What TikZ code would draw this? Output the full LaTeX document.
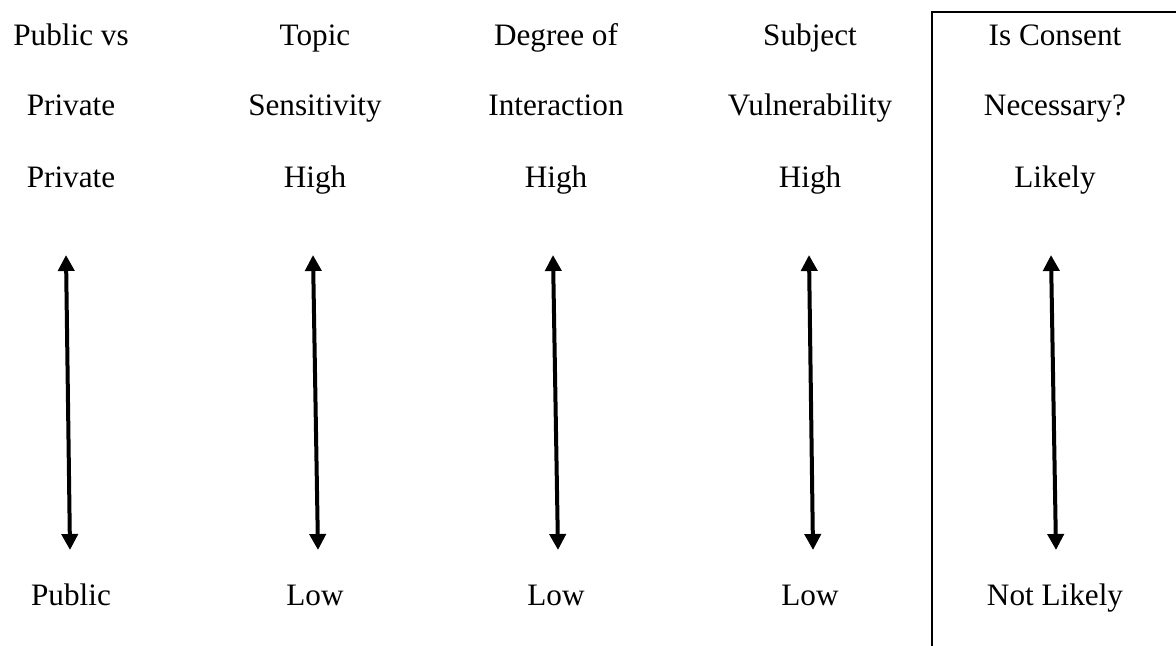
\documentclass[tikz,border=0pt]{standalone}
\usepackage{fontspec}
\setmainfont{Liberation Serif}
\usetikzlibrary{arrows.meta,positioning}

\begin{document}
\begin{tikzpicture}
[x=0.5pt, y=-0.5pt, font=\fontsize{15.6}{18}\selectfont,
% STYLES
% The headtext style is used for the names of the dimensions
headtext/.style={inner sep=0pt, anchor=base},
% The scaletext style is used for the ends of each scale
scaletext/.style={inner sep=0pt, anchor=base},
% The scalearrow style is used to draw the double headed arrows
scalearrow/.style={line width=2pt, {Triangle[width=8pt,length=8pt]}-{Triangle[width=8pt,length=8pt]}}]

\useasboundingbox (0,0) rectangle (1176,646);

% Draw headings
\node [headtext] (pubpriv-a) at (71,46) {Public vs};
\node [headtext] (pubpriv-b) at (71,116) {Private};
\node [headtext] (topic-a) at (315,46) {Topic};
\node [headtext] (topic-b) at (315,116) {Sensitivity};
\node [headtext] (degree-a) at (556,46) {Degree of};
\node [headtext] (degree-b) at (556,116) {Interaction};
\node [headtext] (subject-a) at (810,46) {Subject};
\node [headtext] (subject-b) at (810,116) {Vulnerability};
\node [headtext] (consent-a) at (1055,46) {Is Consent};
\node [headtext] (consent-b) at (1055,116) {Necessary?};

%%%%%%%%%%%%%%%
% Ends of the scales

% top
\node [scaletext] (pubpriv-top) at (71,188) {Private};
\node [scaletext] (topic-top) at (315,188) {High};
\node [scaletext] (degree-top) at (556,188) {High};
\node [scaletext] (subject-top) at (810,188) {High};
\node [scaletext] (consent-top) at (1055,188) {Likely};

% bottom
\node [scaletext] (pubpriv-low) at (71,605) {Public};
\node [scaletext] (topic-low) at (315,605) {Low};
\node [scaletext] (degree-low) at (556,605) {Low};
\node [scaletext] (subject-low) at (810,605) {Low};
\node [scaletext] (consent-low) at (1055,605) {Not Likely};

% arrow ends
\coordinate (pubpriv-up) at (66,255);
\coordinate (pubpriv-down) at (70,550);
\coordinate (topic-up) at (313,255);
\coordinate (topic-down) at (318,550);
\coordinate (degree-up) at (553,255);
\coordinate (degree-down) at (558,550);
\coordinate (subject-up) at (809,255);
\coordinate (subject-down) at (813,550);
\coordinate (consent-up) at (1051,255);
\coordinate (consent-down) at (1056,550);

%%%%%%%%%%%%%%%%

% Draw the scales
\draw [scalearrow] (pubpriv-up) -- (pubpriv-down);
\draw [scalearrow] (topic-up) -- (topic-down);
\draw [scalearrow] (degree-up) -- (degree-down);
\draw [scalearrow] (subject-up) -- (subject-down);
\draw [scalearrow] (consent-up) -- (consent-down);

% Frame of the consent column
\coordinate (frame-bottom) at (932,646);
\coordinate (frame-corner) at (932,12);
\coordinate (frame-end) at (1176,12);
\draw [line width=1pt] (frame-bottom) -- (frame-corner) -- (frame-end);

\end{tikzpicture}
\end{document}
